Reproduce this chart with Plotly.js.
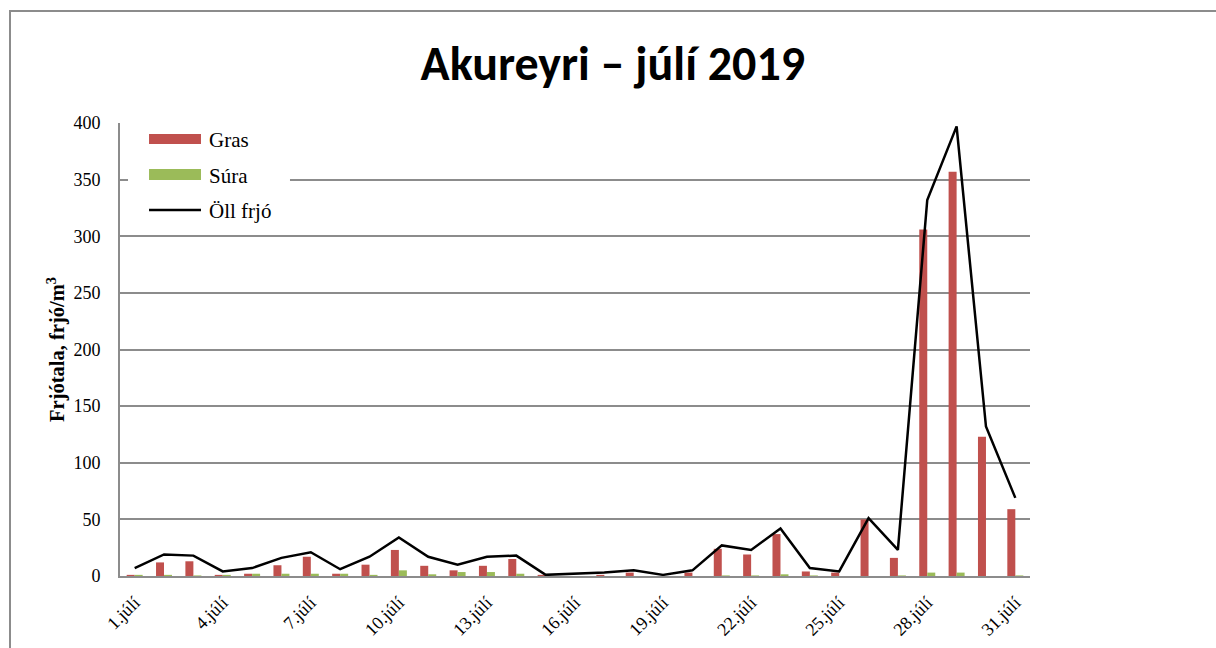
<!DOCTYPE html>
<html>
<head>
<meta charset="utf-8">
<script src="https://cdn.plot.ly/plotly-3.0.1.min.js"></script>
<style>
  html, body { margin: 0; padding: 0; background: #fff; overflow: hidden; }
  #chart { width: 1216px; height: 648px; }
  #frame { position: absolute; left: 9px; top: 10px; width: 1400px; height: 1000px;
           border: 2px solid #8c8c8c; pointer-events: none; box-sizing: border-box; }
</style>
</head>
<body>
<div id="chart"></div>
<div id="frame"></div>
<script>
const days = ["1.júlí","2.júlí","3.júlí","4.júlí","5.júlí","6.júlí","7.júlí","8.júlí","9.júlí","10.júlí",
  "11.júlí","12.júlí","13.júlí","14.júlí","15.júlí","16.júlí","17.júlí","18.júlí","19.júlí","20.júlí",
  "21.júlí","22.júlí","23.júlí","24.júlí","25.júlí","26.júlí","27.júlí","28.júlí","29.júlí","30.júlí","31.júlí"];
const tickDays = ["1.júlí","4.júlí","7.júlí","10.júlí","13.júlí","16.júlí","19.júlí","22.júlí","25.júlí","28.júlí","31.júlí"];
const gras = [1,12,13,1,2,9.5,17,2,10,23,9,5,9,15,1,0,1,3,0,3,24,19,37,4,3,50,16,306,357,123,59];
const sura = [1,1,0.5,1,2,2,2,2,1,5,1.5,3.5,3.5,2,0,0,0,0,0,0,0.5,0.5,1.5,0.5,0,0,0.5,3,3,0,0.5];
const oll  = [7,19,18,4,7,16,21,6,17,34,17,10,17,18,1,2,3,5,1,5,27,23,42,7,4,51,23,332,397,132,69];

const serif = "Liberation Serif";
const gridCol = "#8c8c8c";

const traces = [
  { type: "bar", name: "Gras", x: days, y: gras, marker: { color: "#C0504D", line: { width: 0 } } },
  { type: "bar", name: "Súra", x: days, y: sura, marker: { color: "#9BBB59", line: { width: 0 } } },
  { type: "scatter", mode: "lines", name: "Öll frjó", x: days, y: oll, line: { color: "#000", width: 2.5 } }
];

const layout = {
  width: 1216, height: 648,
  margin: { l: 120, r: 186, t: 123, b: 72 },
  paper_bgcolor: "#fff", plot_bgcolor: "#fff",
  showlegend: false,
  barmode: "group", bargap: 0.455, bargroupgap: 0,
  title: { text: "Akureyri – júlí 2019", x: 0.504, xanchor: "center", y: 0.903, yanchor: "middle",
           font: { family: "Carlito", size: 48, color: "#000", weight: "bold" } },
  xaxis: {
    type: "category", categoryorder: "array", categoryarray: days,
    tickvals: tickDays, ticktext: tickDays, tickangle: -45,
    tickfont: { family: serif, size: 18, color: "#000" },
    showgrid: false, showline: true, linecolor: gridCol, linewidth: 2,
    ticks: "", ticklabelstandoff: 7, zeroline: false
  },
  yaxis: {
    range: [0, 400], tickvals: [0,50,100,150,200,250,300,350,400],
    tickfont: { family: serif, size: 18, color: "#000" },
    showgrid: true, gridcolor: gridCol, gridwidth: 2,
    showline: true, linecolor: gridCol, linewidth: 2, zeroline: false,
    ticks: "", ticklabelstandoff: 14,
    title: { text: "Frjótala, frjó/m<sup>3</sup>", standoff: 3,
             font: { family: serif, size: 20.5, color: "#000", weight: "bold" } }
  },
  shapes: [
    { type: "rect", xref: "paper", yref: "paper", x0: 0.0088, x1: 0.1868, y0: 0.7594, y1: 0.9956,
      fillcolor: "#fff", line: { width: 0 }, layer: "above" },
    { type: "rect", xref: "paper", yref: "paper", x0: 0.0319, x1: 0.0890, y0: 0.9536, y1: 0.9757,
      fillcolor: "#C0504D", line: { width: 0 }, layer: "above" },
    { type: "rect", xref: "paper", yref: "paper", x0: 0.0319, x1: 0.0890, y0: 0.8742, y1: 0.8985,
      fillcolor: "#9BBB59", line: { width: 0 }, layer: "above" },
    { type: "line", xref: "paper", yref: "paper", x0: 0.0319, x1: 0.0890, y0: 0.8079, y1: 0.8079,
      line: { color: "#000", width: 2.5 }, layer: "above" }
  ],
  annotations: [
    { xref: "paper", yref: "paper", x: 0.0956, y: 0.9625, xanchor: "left", yanchor: "middle", showarrow: false,
      text: "Gras", font: { family: serif, size: 21, color: "#000" } },
    { xref: "paper", yref: "paper", x: 0.0956, y: 0.883, xanchor: "left", yanchor: "middle", showarrow: false,
      text: "Súra", font: { family: serif, size: 21, color: "#000" } },
    { xref: "paper", yref: "paper", x: 0.0956, y: 0.805, xanchor: "left", yanchor: "middle", showarrow: false,
      text: "Öll frjó", font: { family: serif, size: 21, color: "#000" } }
  ]
};

Plotly.newPlot("chart", traces, layout, { displayModeBar: false, staticPlot: true });
</script>
</body>
</html>
